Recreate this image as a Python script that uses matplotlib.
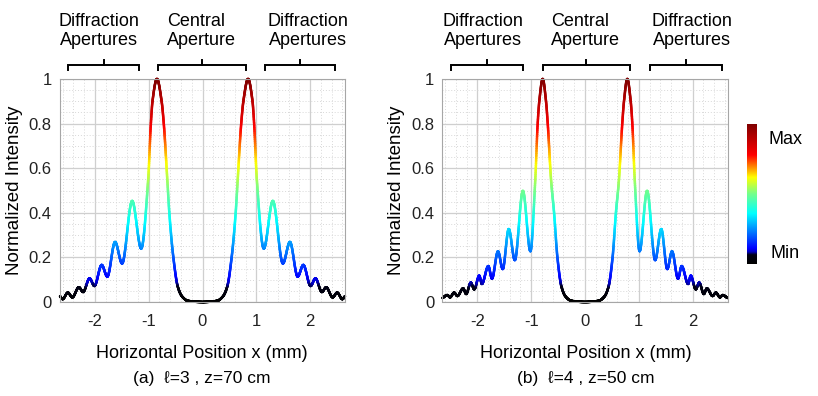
import numpy as np
import matplotlib
matplotlib.use("Agg")
import matplotlib.pyplot as plt
from matplotlib.collections import LineCollection
from matplotlib.colors import LinearSegmentedColormap, Normalize
from matplotlib.ticker import MultipleLocator

plt.rcParams['font.family'] = ['Liberation Sans', 'DejaVu Sans']

# ---------------- data (half profiles, x <= 0; mirrored for x > 0) ----------------
xa_half = [-2.65, -2.60, -2.505, -2.42, -2.30, -2.22, -2.10, -2.01, -1.875, -1.77,
           -1.626, -1.495, -1.308, -1.14, -1.01, -0.96, -0.93, -0.847, -0.76, -0.72,
           -0.655, -0.617, -0.542, -0.46, -0.38, -0.27, 0.0]
ya_half = [0.026, 0.013, 0.042, 0.021, 0.066, 0.045, 0.106, 0.072, 0.166, 0.114,
           0.269, 0.173, 0.453, 0.240, 0.550, 0.800, 0.900, 1.000, 0.900, 0.800,
           0.550, 0.400, 0.200, 0.069, 0.025, 0.005, 0.0]

xb_half = [-2.65, -2.56, -2.51, -2.434, -2.373, -2.266, -2.21, -2.124, -2.06, -1.966,
           -1.918, -1.798, -1.73, -1.618, -1.53, -1.418, -1.305, -1.155, -1.015,
           -0.925, -0.88, -0.85, -0.786, -0.725, -0.693, -0.631, -0.575, -0.513,
           -0.438, -0.363, -0.25, 0.0]
yb_half = [0.018, 0.031, 0.021, 0.042, 0.027, 0.061, 0.036, 0.087, 0.057, 0.118,
           0.081, 0.161, 0.105, 0.227, 0.148, 0.327, 0.188, 0.498, 0.228,
           0.547, 0.800, 0.900, 1.000, 0.900, 0.800, 0.547, 0.400, 0.200,
           0.069, 0.025, 0.005, 0.0]

x_ticks = [-2, -1, 0, 1, 2]
y_ticks = [0, 0.2, 0.4, 0.6, 0.8, 1.0]
y_tick_labels = ['0', '0.2', '0.4', '0.6', '0.8', '1']
captions = ['(a)  \u2113=3 , z=70 cm', '(b)  \u2113=4 , z=50 cm']
xlabel_text = 'Horizontal Position x (mm)'
ylabel_text = 'Normalized Intensity'
group_labels = ['Diffraction\nApertures', 'Central\nAperture', 'Diffraction\nApertures']


def mirror(xh, yh):
    xh = np.asarray(xh, float)
    yh = np.asarray(yh, float)
    x = np.concatenate([xh, -xh[:-1][::-1]])
    y = np.concatenate([yh, yh[:-1][::-1]])
    return x, y


def pchip(x, y, xs):
    x = np.asarray(x, float); y = np.asarray(y, float)
    h = np.diff(x); delta = np.diff(y) / h
    n = len(x)
    d = np.zeros(n)
    for k in range(1, n - 1):
        if delta[k - 1] * delta[k] > 0:
            w1 = 2 * h[k] + h[k - 1]
            w2 = h[k] + 2 * h[k - 1]
            d[k] = (w1 + w2) / (w1 / delta[k - 1] + w2 / delta[k])
    d[0] = delta[0]
    d[-1] = delta[-1]
    idx = np.clip(np.searchsorted(x, xs) - 1, 0, n - 2)
    t = (xs - x[idx]) / h[idx]
    h00 = 2 * t**3 - 3 * t**2 + 1
    h10 = t**3 - 2 * t**2 + t
    h01 = -2 * t**3 + 3 * t**2
    h11 = t**3 - t**2
    return h00 * y[idx] + h10 * h[idx] * d[idx] + h01 * y[idx + 1] + h11 * h[idx] * d[idx + 1]


cmap = LinearSegmentedColormap.from_list('bjet', [
    (0.00, (0.0, 0.0, 0.0)),
    (0.065, (0.0, 0.0, 0.08)),
    (0.085, (0.0, 0.0, 0.75)),
    (0.11, (0.0, 0.0, 1.0)),
    (0.16, (0.0, 0.2, 1.0)),
    (0.36, (0.0, 1.0, 1.0)),
    (0.50, (0.45, 1.0, 0.55)),
    (0.62, (1.0, 1.0, 0.0)),
    (0.70, (1.0, 0.5, 0.0)),
    (0.78, (1.0, 0.0, 0.0)),
    (1.00, (0.5, 0.0, 0.0)),
])
norm = Normalize(0, 1)

fig = plt.figure(figsize=(8.18, 3.96), dpi=100)
W, H = 818.0, 396.0

panels = [
    dict(rect=[60 / W, 1 - 302 / H, 285 / W, 223 / H], xh=xa_half, yh=ya_half,
         brackets=[(-2.50, -1.18), (-0.82, 0.80), (1.16, 2.47)],
         texts=[(-1.93, 'center'), (-0.66, 'left'), (1.96, 'center')],
         cx=202),
    dict(rect=[442.5 / W, 1 - 302 / H, 285 / W, 223 / H], xh=xb_half, yh=yb_half,
         brackets=[(-2.50, -1.16), (-0.79, 0.83), (1.21, 2.55)],
         texts=[(-1.89, 'center'), (-0.63, 'left'), (1.99, 'center')],
         cx=586),
]

grid_major = '#cfcfcf'
grid_minor = '#d8d8d8'

for i, p in enumerate(panels):
    ax = fig.add_axes(p['rect'])
    ax.set_xlim(-2.65, 2.65)
    ax.set_ylim(0, 1)
    ax.set_axisbelow(True)
    ax.set_xticks(x_ticks)
    ax.set_xticklabels([str(v) for v in x_ticks])
    ax.set_yticks(y_ticks)
    ax.set_yticklabels(y_tick_labels)
    ax.xaxis.set_minor_locator(MultipleLocator(0.2))
    ax.yaxis.set_minor_locator(MultipleLocator(0.05))
    ax.grid(True, which='major', color=grid_major, linewidth=0.9, linestyle='-')
    ax.grid(True, which='minor', color=grid_minor, linewidth=0.7, linestyle=(0, (1, 2)))
    ax.tick_params(which='both', length=0, labelsize=12, colors='#222222')
    ax.tick_params(axis='x', pad=9)
    ax.tick_params(axis='y', pad=6)
    for s in ax.spines.values():
        s.set_color('#a6a6a6')
        s.set_linewidth(0.8)

    x, y = mirror(p['xh'], p['yh'])
    xs = np.linspace(x[0], x[-1], 3000)
    ys = np.clip(pchip(x, y, xs), 0, 1)
    pts = np.column_stack([xs, ys]).reshape(-1, 1, 2)
    segs = np.concatenate([pts[:-1], pts[1:]], axis=1)
    lc = LineCollection(segs, cmap=cmap, norm=norm, linewidths=1.8,
                        capstyle='round', joinstyle='round', clip_on=False)
    lc.set_array(0.5 * (ys[:-1] + ys[1:]))
    ax.add_collection(lc)

    ax.set_ylabel(ylabel_text, fontsize=13.5, labelpad=4)

    # brackets and group labels
    for (x0, x1) in p['brackets']:
        xm = 0.5 * (x0 + x1)
        ax.plot([x0, x0, x1, x1], [1.040, 1.063, 1.063, 1.040], color='black',
                lw=1.4, clip_on=False, solid_joinstyle='miter')
        ax.plot([xm, xm], [1.063, 1.085], color='black', lw=1.4, clip_on=False)
    for (tx, ha), lab in zip(p['texts'], group_labels):
        ax.text(tx, 1.215, lab, ha=ha, va='center', fontsize=13,
                linespacing=1.15, clip_on=False)

    fig.text(p['cx'] / W, 1 - 354 / H, xlabel_text, ha='center', va='center', fontsize=13)
    fig.text(p['cx'] / W, 1 - 378 / H, captions[i], ha='center', va='center', fontsize=12.5)

# colorbar
cax = fig.add_axes([747 / W, 1 - 264 / H, 10 / W, 140 / H])
grad = np.linspace(0, 1, 256).reshape(-1, 1)
cax.imshow(grad, aspect='auto', cmap=cmap, norm=norm, origin='lower',
           extent=[0, 1, 0, 1])
cax.set_axis_off()
fig.text(785 / W, 1 - 139 / H, 'Max', ha='center', va='center', fontsize=13)
fig.text(785 / W, 1 - 254 / H, 'Min', ha='center', va='center', fontsize=13)

fig.savefig('out.png', dpi=100)
